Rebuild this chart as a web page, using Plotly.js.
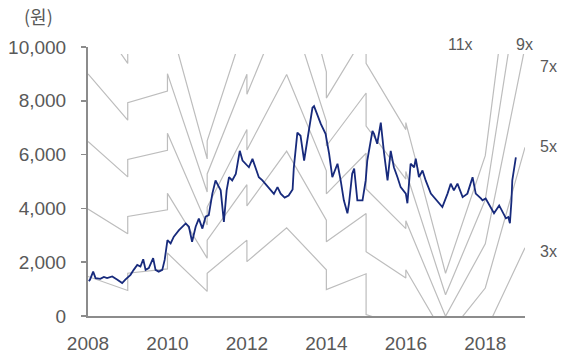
<!DOCTYPE html>
<html>
<head>
<meta charset="utf-8">
<script src="https://cdn.plot.ly/plotly-3.0.1.min.js"></script>
<style>html,body{margin:0;padding:0;background:#fff;}#chart{width:574px;height:356px;}</style>
</head>
<body>
<div id="chart"></div>
<script>
// Price (원), decimal-year dates
const priceT = [2008.02,2008.05,2008.13,2008.19,2008.31,2008.40,2008.48,2008.61,2008.74,2008.86,2008.94,2009.07,2009.15,2009.24,2009.32,2009.39,2009.45,2009.53,2009.64,2009.70,2009.78,2009.87,2009.93,2010.00,2010.08,2010.16,2010.29,2010.37,2010.46,2010.54,2010.62,2010.71,2010.79,2010.88,2010.96,2011.04,2011.13,2011.21,2011.26,2011.34,2011.42,2011.49,2011.55,2011.63,2011.72,2011.82,2011.89,2011.97,2012.05,2012.14,2012.22,2012.30,2012.39,2012.47,2012.60,2012.68,2012.77,2012.85,2012.95,2013.05,2013.15,2013.18,2013.27,2013.35,2013.44,2013.56,2013.65,2013.69,2013.77,2013.86,2013.98,2014.07,2014.15,2014.28,2014.36,2014.44,2014.53,2014.57,2014.65,2014.70,2014.78,2014.91,2014.99,2015.03,2015.16,2015.20,2015.28,2015.37,2015.45,2015.54,2015.62,2015.70,2015.79,2015.87,2016.00,2016.04,2016.12,2016.21,2016.25,2016.33,2016.42,2016.50,2016.63,2016.80,2016.92,2017.05,2017.13,2017.21,2017.30,2017.43,2017.55,2017.68,2017.76,2017.89,2017.93,2018.01,2018.14,2018.22,2018.35,2018.43,2018.52,2018.58,2018.62,2018.66,2018.68,2018.77];
const priceV = [1300,1350,1650,1410,1380,1450,1410,1470,1350,1225,1350,1530,1715,1900,1840,2110,1715,1780,2150,1715,1650,1715,2085,2820,2700,2950,3190,3320,3440,3320,2760,3320,3620,3250,3690,3750,4550,5040,4900,4670,3500,4670,5160,5040,5280,6140,5780,5660,5530,5840,5530,5160,5040,4910,4670,4540,4790,4550,4400,4480,4700,5500,6820,6700,5780,6880,7740,7800,7500,7140,6770,6030,5160,5660,5040,4300,3820,4190,5290,5480,4300,4300,5040,5780,6880,6770,6400,7190,6080,5040,6140,5530,5160,4790,4550,4190,5660,5530,5850,5160,5410,5040,4550,4240,4050,4550,4920,4670,4920,4420,4550,5160,4550,4370,4300,4370,4050,3820,4110,3870,3630,3680,3450,4300,5040,5900];

// PER band lines (원) at year-boundary vertices (repeated years = jumps)
const bandT = [2008.0,2009.0,2009.0,2010.0,2010.0,2011.0,2011.0,2012.0,2012.0,2013.0,2014.0,2014.0,2015.0,2015.0,2016.0,2016.0,2017.0,2018.0,2019.0];
const band3  = [1470, 950,1590,1750,2340, 915,1590,2820,2020, 3280,1720, 980,1570,  55,-430,-100,-1610,-600, 2537];
const band5  = [3980,3060,3700,3950,4560,2150,2820,4880,4090, 6130,3560,2760,3810,2390,1410,1720, -810,1040, 6270];
const band7  = [6490,5170,5820,6160,6790,3380,4050,6930,6170, 8980,5400,4540,6050,4725,3250,3540,  -10,2680,10000];
const band9  = [9000,7280,7930,8360,9010,4610,5280,8990,8240,11830,7240,6320,8290,7060,5090,5370,  790,4320,13740];
const band11 = [11510,9390,10040,10560,11230,5840,6510,11050,10310,14680,9080,8100,10530,9395,6930,7190,1590,5960,17470];

const bandNames = ['3x','5x','7x','9x','11x'];
const bands = [band3, band5, band7, band9, band11];

const xTicks = [2008,2010,2012,2014,2016,2018];
const yTicks = [0,2000,4000,6000,8000,10000];
const yTickText = ['0','2,000','4,000','6,000','8,000','10,000'];

const FONT = 'Liberation Sans, Arial, sans-serif';
const GREY_TXT = '#595959';
const BAND_COLOR = '#bdbdbd';
const PRICE_COLOR = '#172a7c';
const CLIP_TOP = 9740; // band lines are cut a little below the axis top
const yMax = 10000;

// empty trace so that the visible x/y axes subplot is built
const traces = [{x: [], y: [], type: 'scatter', mode: 'lines', xaxis: 'x', yaxis: 'y', hoverinfo: 'skip'}];
bands.forEach((b, i) => traces.push({
  x: bandT, y: b, name: bandNames[i], type: 'scatter', mode: 'lines',
  line: {color: BAND_COLOR, width: 1.2}, xaxis: 'x', yaxis: 'y2', hoverinfo: 'skip'
}));
traces.push({
  x: priceT, y: priceV, name: '주가', type: 'scatter', mode: 'lines',
  line: {color: PRICE_COLOR, width: 1.8}, xaxis: 'x', yaxis: 'y2'
});

const layout = {
  width: 574, height: 356,
  margin: {l: 88, r: 49, t: 47, b: 40},
  paper_bgcolor: '#fff', plot_bgcolor: '#fff',
  showlegend: false,
  font: {family: FONT, color: GREY_TXT, size: 17},
  xaxis: {
    range: [2008, 2019], anchor: 'y', tickvals: xTicks, ticktext: xTicks.map(String),
    ticks: 'inside', ticklen: 6, tickcolor: '#8c8c8c', tickwidth: 1.5,
    showline: true, linecolor: '#8c8c8c', linewidth: 2, showgrid: false, zeroline: false,
    ticklabelstandoff: 9,
    tickfont: {family: FONT, size: 19, color: GREY_TXT}
  },
  yaxis: {
    range: [0, yMax], domain: [0, 1], anchor: 'x', tickvals: yTicks, ticktext: yTickText,
    ticks: 'outside', ticklen: 5, tickcolor: '#8c8c8c', tickwidth: 1.5,
    showline: true, linecolor: '#8c8c8c', linewidth: 2, showgrid: false, zeroline: false,
    ticklabelstandoff: 11,
    tickfont: {family: FONT, size: 19, color: GREY_TXT}
  },
  yaxis2: {
    range: [0, CLIP_TOP], domain: [0, CLIP_TOP / yMax], anchor: 'x', visible: false
  },
  annotations: [
    {text: '(원)', xref: 'paper', yref: 'paper', x: -0.152, y: 1.115, xanchor: 'left', yanchor: 'middle', showarrow: false, font: {size: 18, color: GREY_TXT, family: 'Noto Sans CJK KR, ' + FONT}},
    {text: '11x', xref: 'paper', yref: 'paper', x: 0.853, y: 1.01, xanchor: 'center', yanchor: 'middle', showarrow: false, font: {size: 16, color: GREY_TXT}},
    {text: '9x', xref: 'paper', yref: 'paper', x: 0.998, y: 1.01, xanchor: 'center', yanchor: 'middle', showarrow: false, font: {size: 16, color: GREY_TXT}},
    {text: '7x', xref: 'paper', yref: 'paper', x: 1.053, y: 0.928, xanchor: 'center', yanchor: 'middle', showarrow: false, font: {size: 16, color: GREY_TXT}},
    {text: '5x', xref: 'paper', yref: 'paper', x: 1.053, y: 0.63, xanchor: 'center', yanchor: 'middle', showarrow: false, font: {size: 16, color: GREY_TXT}},
    {text: '3x', xref: 'paper', yref: 'paper', x: 1.053, y: 0.24, xanchor: 'center', yanchor: 'middle', showarrow: false, font: {size: 16, color: GREY_TXT}}
  ]
};

Plotly.newPlot('chart', traces, layout, {staticPlot: true, displayModeBar: false});
</script>
</body>
</html>
